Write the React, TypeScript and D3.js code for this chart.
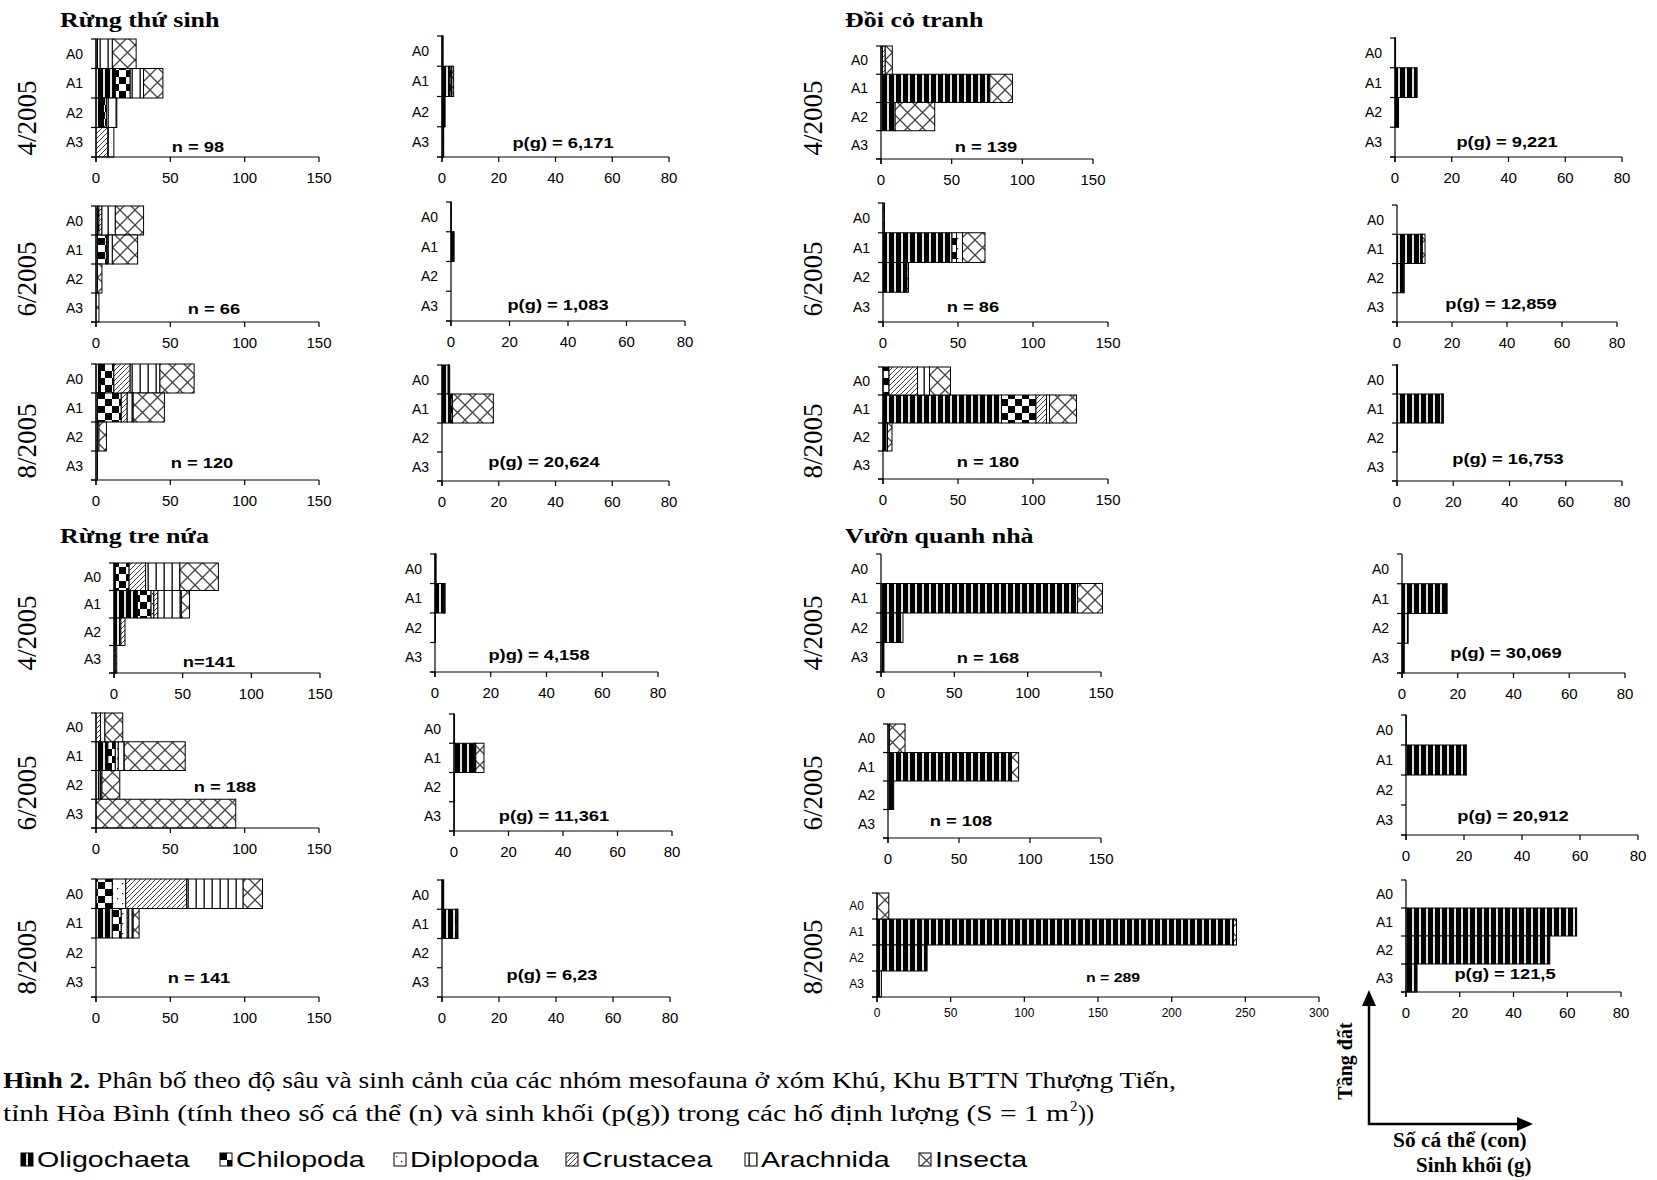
import React from "react";
import * as d3 from "d3";

// ---------- DATA ----------
const GROUPS = ["Oligochaeta", "Chilopoda", "Diplopoda", "Crustacea", "Arachnida", "Insecta"];
const LAYERS = ["A0", "A1", "A2", "A3"];
const HABITATS = ["Rừng thứ sinh", "Đồi cỏ tranh", "Rừng tre nứa", "Vườn quanh nhà"];
const DATES = ["4/2005", "6/2005", "8/2005"];
const COUNT_TICKS = [0, 50, 100, 150];
const COUNT_TICKS_WIDE = [0, 50, 100, 150, 200, 250, 300];
const MASS_TICKS = [0, 20, 40, 60, 80];

// individuals per m2, rows A0..A3, columns in GROUPS order
const rtsCount4 = [[1, 0, 0, 0, 10, 16], [13, 10, 0, 0, 9, 13], [5, 2, 0, 0, 7, 0], [0, 0, 0, 8, 4, 0]];
const rtsCount6 = [[1, 1, 0, 2, 9, 19], [1, 6, 0, 1, 3, 17], [1, 0, 0, 0, 0, 3], [0, 0, 0, 0, 0, 2]];
const rtsCount8 = [[3, 9, 0, 11, 20, 23], [1, 16, 0, 4, 4, 21], [1, 0, 0, 0, 1, 5], [1, 0, 0, 0, 0, 0]];
const dctCount4 = [[1, 0, 0, 2, 0, 5], [77, 0, 0, 0, 0, 16], [10, 0, 0, 0, 0, 28], [0, 0, 0, 0, 0, 0]];
const dctCount6 = [[0, 0, 0, 0, 0, 1], [46, 3, 4, 0, 0, 15], [16, 0, 1, 0, 0, 0], [0, 0, 0, 0, 0, 0]];
const dctCount8 = [[0, 4, 0, 19, 8, 14], [79, 23, 0, 7, 2, 18], [2, 0, 0, 0, 1, 3], [0, 0, 0, 0, 0, 0]];
const rtnCount4 = [[1, 10, 0, 12, 25, 28], [17, 10, 2, 3, 17, 6], [4, 0, 1, 3, 0, 0], [0, 0, 0, 1, 0, 1]];
const rtnCount6 = [[0, 0, 0, 3, 3, 12], [8, 5, 2, 0, 4, 41], [2, 0, 1, 1, 0, 12], [0, 0, 0, 0, 0, 94]];
const rtnCount8 = [[0, 11, 9, 41, 38, 13], [11, 6, 4, 1, 3, 4], [0, 0, 0, 0, 0, 0], [0, 0, 0, 0, 0, 0]];
const vqnCount4 = [[0, 0, 0, 0, 0, 0], [134, 0, 0, 0, 0, 17], [15, 0, 0, 0, 0, 0], [2, 0, 0, 0, 0, 0]];
const vqnCount6 = [[1, 0, 0, 0, 0, 11], [87, 0, 0, 0, 0, 5], [4, 0, 0, 0, 0, 0], [0, 0, 0, 0, 0, 0]];
const vqnCount8 = [[0, 0, 0, 0, 0, 8], [242, 0, 0, 0, 0, 2], [34, 0, 0, 0, 0, 0], [3, 0, 0, 0, 0, 0]];

// biomass (g), rows A0..A3, columns in GROUPS order
const rtsMass4 = [[0.1, 0, 0, 0, 0.1, 0.2], [2.6, 0.6, 0, 0, 0.3, 0.6], [0.8, 0.1, 0, 0, 0.2, 0], [0, 0, 0, 0.4, 0.2, 0]];
const rtsMass6 = [[0.03, 0, 0, 0, 0, 0.02], [0.85, 0.1, 0, 0, 0, 0.08], [0, 0, 0, 0, 0, 0], [0, 0, 0, 0, 0, 0]];
const rtsMass8 = [[2.2, 0, 0, 0, 0.3, 0.2], [3.2, 0.5, 0, 0, 0, 14.4], [0, 0, 0, 0, 0, 0], [0, 0, 0, 0, 0, 0]];
const dctMass4 = [[0.1, 0, 0, 0, 0, 0.1], [7.6, 0, 0, 0, 0, 0.2], [1.2, 0, 0, 0, 0, 0.05], [0, 0, 0, 0, 0, 0]];
const dctMass6 = [[0, 0, 0, 0, 0, 0], [8.6, 0.3, 0.3, 0, 0, 1.0], [2.5, 0, 0, 0, 0, 0.1], [0, 0, 0, 0, 0, 0]];
const dctMass8 = [[0, 0.05, 0, 0.05, 0, 0.05], [16.0, 0.3, 0, 0, 0, 0.2], [0.1, 0, 0, 0, 0, 0], [0, 0, 0, 0, 0, 0]];
const rtnMass4 = [[0, 0.1, 0, 0, 0.1, 0.2], [3.2, 0.2, 0, 0, 0.1, 0.1], [0.1, 0, 0, 0.05, 0, 0], [0, 0, 0, 0, 0, 0]];
const rtnMass6 = [[0, 0, 0, 0, 0, 0.2], [7.6, 0.3, 0, 0, 0.1, 3.0], [0.1, 0, 0, 0, 0, 0.1], [0, 0, 0, 0, 0, 0.1]];
const rtnMass8 = [[0.3, 0.1, 0, 0, 0.1, 0.1], [4.8, 0.4, 0, 0, 0.2, 0.2], [0, 0, 0, 0, 0, 0], [0, 0, 0, 0, 0, 0]];
const vqnMass4 = [[0, 0, 0, 0, 0, 0], [16.0, 0, 0, 0, 0, 0.2], [2.2, 0, 0, 0, 0, 0], [0.8, 0, 0, 0, 0, 0]];
const vqnMass6 = [[0, 0, 0, 0, 0, 0.1], [20.5, 0, 0, 0, 0, 0.3], [0, 0, 0, 0, 0, 0], [0, 0, 0, 0, 0, 0]];
const vqnMass8 = [[0, 0, 0, 0, 0, 0], [63.5, 0, 0, 0, 0, 0], [53.5, 0, 0, 0, 0, 0], [4.1, 0, 0, 0, 0, 0]];

const PANEL_LABELS = [
  "n = 98", "p(g) = 6,171", "n = 139", "p(g) = 9,221",
  "n = 66", "p(g) = 1,083", "n = 86", "p(g) = 12,859",
  "n = 120", "p(g) = 20,624", "n = 180", "p(g) = 16,753",
  "n=141", "p)g) = 4,158", "n = 168", "p(g) = 30,069",
  "n = 188", "p(g) = 11,361", "n = 108", "p(g) = 20,912",
  "n = 141", "p(g) = 6,23", "n = 289", "p(g) = 121,5",
];

const PANEL_VALUES = [
  rtsCount4, rtsMass4, dctCount4, dctMass4,
  rtsCount6, rtsMass6, dctCount6, dctMass6,
  rtsCount8, rtsMass8, dctCount8, dctMass8,
  rtnCount4, rtnMass4, vqnCount4, vqnMass4,
  rtnCount6, rtnMass6, vqnCount6, vqnMass6,
  rtnCount8, rtnMass8, vqnCount8, vqnMass8,
];

const PANEL_TICKS = [
  COUNT_TICKS, MASS_TICKS, COUNT_TICKS, MASS_TICKS,
  COUNT_TICKS, MASS_TICKS, COUNT_TICKS, MASS_TICKS,
  COUNT_TICKS, MASS_TICKS, COUNT_TICKS, MASS_TICKS,
  COUNT_TICKS, MASS_TICKS, COUNT_TICKS, MASS_TICKS,
  COUNT_TICKS, MASS_TICKS, COUNT_TICKS, MASS_TICKS,
  COUNT_TICKS, MASS_TICKS, COUNT_TICKS_WIDE, MASS_TICKS,
];

// ---------- LAYOUT ----------
const LAYOUT = [
  { x0: 96, x1: 319, y0: 39, y1: 157, lx: 198, ly: 152 },
  { x0: 442, x1: 669, y0: 36, y1: 157, lx: 563, ly: 148 },
  { x0: 881, x1: 1093, y0: 46, y1: 159, lx: 986, ly: 152 },
  { x0: 1395, x1: 1622, y0: 38, y1: 157, lx: 1507, ly: 147 },
  { x0: 96, x1: 319, y0: 206, y1: 322, lx: 214, ly: 314 },
  { x0: 451, x1: 685, y0: 202, y1: 321, lx: 558, ly: 310 },
  { x0: 883, x1: 1108, y0: 203, y1: 322, lx: 973, ly: 312 },
  { x0: 1397, x1: 1617, y0: 205, y1: 322, lx: 1501, ly: 309 },
  { x0: 96, x1: 319, y0: 364, y1: 480, lx: 202, ly: 468 },
  { x0: 442, x1: 669, y0: 365, y1: 481, lx: 544, ly: 467 },
  { x0: 883, x1: 1108, y0: 367, y1: 479, lx: 988, ly: 467 },
  { x0: 1397, x1: 1622, y0: 365, y1: 481, lx: 1508, ly: 464 },
  { x0: 114, x1: 320, y0: 563, y1: 673, lx: 209, ly: 667 },
  { x0: 435, x1: 658, y0: 554, y1: 672, lx: 539, ly: 660 },
  { x0: 881, x1: 1101, y0: 554, y1: 672, lx: 988, ly: 663 },
  { x0: 1402, x1: 1625, y0: 554, y1: 673, lx: 1506, ly: 658 },
  { x0: 96, x1: 319, y0: 713, y1: 828, lx: 225, ly: 792 },
  { x0: 454, x1: 672, y0: 714, y1: 831, lx: 554, ly: 821 },
  { x0: 888, x1: 1101, y0: 724, y1: 838, lx: 961, ly: 826 },
  { x0: 1406, x1: 1638, y0: 715, y1: 835, lx: 1513, ly: 821 },
  { x0: 96, x1: 319, y0: 879, y1: 997, lx: 199, ly: 983 },
  { x0: 442, x1: 670, y0: 880, y1: 997, lx: 552, ly: 980 },
  { x0: 877, x1: 1319, y0: 893, y1: 997, lx: 1113, ly: 982, small: true },
  { x0: 1406, x1: 1621, y0: 880, y1: 992, lx: 1505, ly: 979 },
];
const DATE_Y = [118, 279, 441, 633, 793, 957];
const DATE_X = [36, 822];
const TITLE_POS = [[60, 27], [845, 27], [60, 543], [845, 543]];
const LEGEND_X = [21, 220, 394, 566, 745, 919];

const SANS = "'Liberation Sans', Arial, Helvetica, sans-serif";
const SERIF = "'Liberation Serif', 'Times New Roman', Times, serif";
const PAT_IDS = ["olig", "chil", "dipl", "crus", "arac", "inse"];

function PatternDefs({ suffix = "", ox = 0, oy = 0 }: { suffix?: string; ox?: number; oy?: number }) {
  const common = { patternUnits: "userSpaceOnUse" as const, x: ox, y: oy };
  return (
    <>
      <pattern id={"olig" + suffix} {...common} width={7} height={7}>
        <rect width={7} height={7} fill="#e2e2e2" />
        <rect width={5} height={7} fill="#000" />
      </pattern>
      <pattern id={"chil" + suffix} {...common} width={14} height={14}>
        <rect width={14} height={14} fill="#fff" />
        <rect width={7} height={7} fill="#000" />
        <rect x={7} y={7} width={7} height={7} fill="#000" />
      </pattern>
      <pattern id={"dipl" + suffix} {...common} width={10} height={10}>
        <rect width={10} height={10} fill="#fff" />
        <rect x={2} y={3} width={1.3} height={1.3} fill="#222" />
        <rect x={7} y={8} width={1.3} height={1.3} fill="#222" />
      </pattern>
      <pattern id={"crus" + suffix} {...common} width={5} height={5}>
        <rect width={5} height={5} fill="#fff" />
        <path d="M-1,1 L1,-1 M0,5 L5,0 M4,6 L6,4" stroke="#444" strokeWidth={1} />
      </pattern>
      <pattern id={"arac" + suffix} {...common} width={8} height={8}>
        <rect width={8} height={8} fill="#fff" />
        <rect x={3.5} width={1.3} height={8} fill="#000" />
      </pattern>
      <pattern id={"inse" + suffix} {...common} width={15} height={15}>
        <rect width={15} height={15} fill="#fff" />
        <path d="M0,0 L15,15 M15,0 L0,15" stroke="#444" strokeWidth={1.3} />
      </pattern>
    </>
  );
}

function Panel({ values, ticks, layout, label }: any) {
  const small = !!layout.small;
  const x = d3.scaleLinear().domain([0, ticks[ticks.length - 1]]).range([layout.x0, layout.x1]);
  const y = d3.scaleBand<string>().domain(LAYERS).range([layout.y0, layout.y1]).paddingInner(0).paddingOuter(0);
  const rows = LAYERS.map((l, i) => {
    const o: any = { layer: l };
    GROUPS.forEach((g, j) => (o[g] = values[i][j]));
    return o;
  });
  const series = d3.stack<any>().keys(GROUPS)(rows);
  const bw = y.bandwidth();
  const boundaries = LAYERS.map((l) => y(l) as number).concat([layout.y1]);
  return (
    <g>
      {series.map((s, si) =>
        s.map((d: any, di: number) => {
          const w = x(d[1]) - x(d[0]);
          if (!(d[1] - d[0] > 0)) return null;
          return (
            <rect
              key={si + "-" + di}
              x={x(d[0])}
              y={y(LAYERS[di])}
              width={w}
              height={bw}
              fill={`url(#${PAT_IDS[si]})`}
              stroke="#000"
              strokeWidth={1}
            />
          );
        })
      )}
      <line x1={layout.x0} x2={layout.x0} y1={layout.y0} y2={layout.y1 + 5} stroke="#000" strokeWidth={1.2} />
      <line x1={layout.x0 - 5} x2={layout.x1} y1={layout.y1} y2={layout.y1} stroke="#000" strokeWidth={1.2} />
      {boundaries.map((b, i) => (
        <line key={"yt" + i} x1={layout.x0 - 5} x2={layout.x0} y1={b} y2={b} stroke="#000" strokeWidth={1.2} />
      ))}
      {ticks.map((t: number) => (
        <g key={"xt" + t}>
          <line x1={x(t)} x2={x(t)} y1={layout.y1} y2={layout.y1 + 5} stroke="#000" strokeWidth={1.2} />
          <text
            x={x(t)}
            y={layout.y1 + (small ? 20 : 26)}
            textAnchor="middle"
            fontFamily={SANS}
            fontSize={small ? 12 : 15}
          >
            {t}
          </text>
        </g>
      ))}
      {LAYERS.map((l) => (
        <text
          key={"yl" + l}
          x={layout.x0 - 13}
          y={(y(l) as number) + bw / 2 + (small ? 4 : 5)}
          textAnchor="end"
          fontFamily={SANS}
          fontSize={small ? 12 : 14}
        >
          {l}
        </text>
      ))}
      <text
        transform={`translate(${layout.lx},${layout.ly}) scale(1.22,1)`}
        textAnchor="middle"
        fontFamily={SANS}
        fontWeight="bold"
        fontSize={small ? 13 : 15}
      >
        {label}
      </text>
    </g>
  );
}

export default function App() {
  return (
    <svg
      width={1657}
      height={1180}
      viewBox="0 0 1657 1180"
      style={{ position: "absolute", left: 0, top: 0, background: "#fff" }}
    >
      <defs>
        <PatternDefs />
        {LEGEND_X.map((lx, i) => (
          <PatternDefs key={"lg" + i} suffix={"-lg" + i} ox={lx} oy={1153} />
        ))}
      </defs>
      <rect width={1657} height={1180} fill="#fff" />

      {HABITATS.map((h, i) => (
        <text
          key={h}
          transform={`translate(${TITLE_POS[i][0]},${TITLE_POS[i][1]}) scale(1.18,1)`}
          fontFamily={SERIF}
          fontWeight="bold"
          fontSize={22}
        >
          {h}
        </text>
      ))}

      {DATE_Y.map((yy, r) =>
        DATE_X.map((xx) => (
          <text
            key={"d" + r + "-" + xx}
            transform={`translate(${xx},${yy}) rotate(-90)`}
            textAnchor="middle"
            fontFamily={SERIF}
            fontSize={27}
          >
            {DATES[r % 3]}
          </text>
        ))
      )}

      {LAYOUT.map((lay, i) => (
        <Panel key={i} values={PANEL_VALUES[i]} ticks={PANEL_TICKS[i]} layout={lay} label={PANEL_LABELS[i]} />
      ))}

      <text x={3} y={1088} fontFamily={SERIF} fontSize={24} textLength={1173} lengthAdjust="spacingAndGlyphs">
        <tspan fontWeight="bold">Hình 2.</tspan> Phân bố theo độ sâu và sinh cảnh của các nhóm mesofauna ở xóm Khú,
        Khu BTTN Thượng Tiến,
      </text>
      <text x={3} y={1121} fontFamily={SERIF} fontSize={24} textLength={1066} lengthAdjust="spacingAndGlyphs">
        tỉnh Hòa Bình (tính theo số cá thể (n) và sinh khối (p(g)) trong các hố định lượng (S = 1 m
      </text>
      <text x={1070} y={1111} fontFamily={SERIF} fontSize={15}>
        2
      </text>
      <text x={1078} y={1121} fontFamily={SERIF} fontSize={24}>
        ))
      </text>

      {GROUPS.map((g, i) => (
        <g key={g}>
          <rect
            x={LEGEND_X[i]}
            y={1153}
            width={12}
            height={13}
            fill={`url(#${PAT_IDS[i]}-lg${i})`}
            stroke="#000"
            strokeWidth={1}
          />
          <text
            transform={`translate(${LEGEND_X[i] + 16},${1167}) scale(1.3,1)`}
            fontFamily={SANS}
            fontSize={22}
          >
            {g}
          </text>
        </g>
      ))}

      <line x1={1369} y1={1125} x2={1369} y2={1002} stroke="#000" strokeWidth={2.5} />
      <polygon points="1369,990 1362,1006 1376,1006" fill="#000" />
      <line x1={1368} y1={1124} x2={1519} y2={1124} stroke="#000" strokeWidth={2.5} />
      <polygon points="1533,1124 1517,1117 1517,1131" fill="#000" />
      <text
        transform="translate(1352,1061) rotate(-90)"
        textAnchor="middle"
        fontFamily={SERIF}
        fontWeight="bold"
        fontSize={20}
      >
        Tầng đất
      </text>
      <text transform="translate(1393,1147) scale(1.07,1)" fontFamily={SERIF} fontWeight="bold" fontSize={20}>
        Số cá thể (con)
      </text>
      <text transform="translate(1416,1172) scale(1.05,1)" fontFamily={SERIF} fontWeight="bold" fontSize={20}>
        Sinh khối (g)
      </text>
    </svg>
  );
}
